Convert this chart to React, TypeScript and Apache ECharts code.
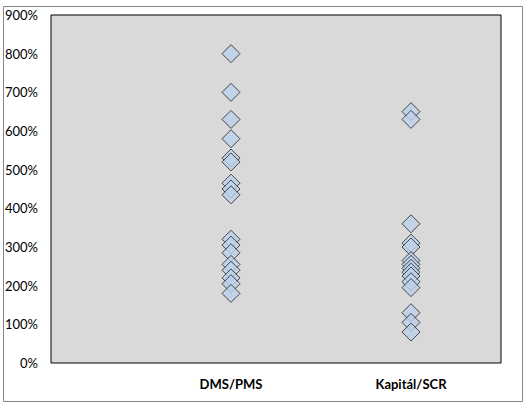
import { useEffect, useRef } from "react";
import * as echarts from "echarts";

// categories sit at x = 1 and x = 2 on a 0..2.5 value axis (Excel-style scatter)
const categories = ["DMS/PMS", "Kapitál/SCR"];
const dmsPms = [800, 700, 630, 580, 530, 520, 465, 450, 435, 320, 305, 285, 255, 240, 220, 205, 180];
const kapitalScr = [650, 630, 360, 310, 300, 265, 255, 245, 235, 225, 210, 195, 130, 105, 80];

export default function App() {
  const ref = useRef<HTMLDivElement>(null);

  useEffect(() => {
    if (!ref.current) return;
    const chart = echarts.init(ref.current, undefined, { renderer: "svg" });
    const font = "Lato, 'Open Sans', sans-serif";

    const toPoints = (vals: number[], x: number) => vals.map((v) => [x, v]);
    const marker = { color: "#bdd1ea", borderColor: "#222222", borderWidth: 1 };

    chart.setOption({
      animation: false,
      backgroundColor: "#ffffff",
      textStyle: { fontFamily: font },
      grid: {
        left: 51,
        top: 15,
        width: 450,
        height: 348,
        show: true,
        backgroundColor: "#d9d9d9",
        borderColor: "#000000",
        borderWidth: 1,
      },
      xAxis: {
        type: "value",
        min: 0,
        max: 2.5,
        interval: 0.5,
        axisLine: { show: false },
        axisTick: { show: false },
        splitLine: { show: false },
        axisLabel: {
          margin: 14,
          fontFamily: font,
          fontSize: 13,
          fontWeight: "bold",
          color: "#000",
          formatter: (v: number) => (v === 1 ? categories[0] : v === 2 ? categories[1] : ""),
        },
      },
      yAxis: {
        type: "value",
        min: 0,
        max: 900,
        interval: 100,
        axisLine: { show: false },
        axisTick: { show: false },
        splitLine: { show: false },
        axisLabel: {
          margin: 13,
          fontFamily: font,
          fontSize: 13,
          color: "#000",
          formatter: (v: number) => `${v}%`,
        },
      },
      graphic: [
        {
          type: "rect",
          shape: { x: 3.5, y: 6.5, width: 519, height: 395 },
          style: { fill: "none", stroke: "#868686", lineWidth: 1 },
          z: 100,
        },
      ],
      series: [
        {
          type: "scatter",
          symbol: "diamond",
          symbolSize: 18,
          data: toPoints(dmsPms, 1),
          itemStyle: marker,
        },
        {
          type: "scatter",
          symbol: "diamond",
          symbolSize: 18,
          data: toPoints(kapitalScr, 2),
          itemStyle: marker,
        },
      ],
    });

    return () => chart.dispose();
  }, []);

  return (
    <div
      ref={ref}
      style={{ position: "absolute", left: 0, top: 0, width: 527, height: 405 }}
    />
  );
}
